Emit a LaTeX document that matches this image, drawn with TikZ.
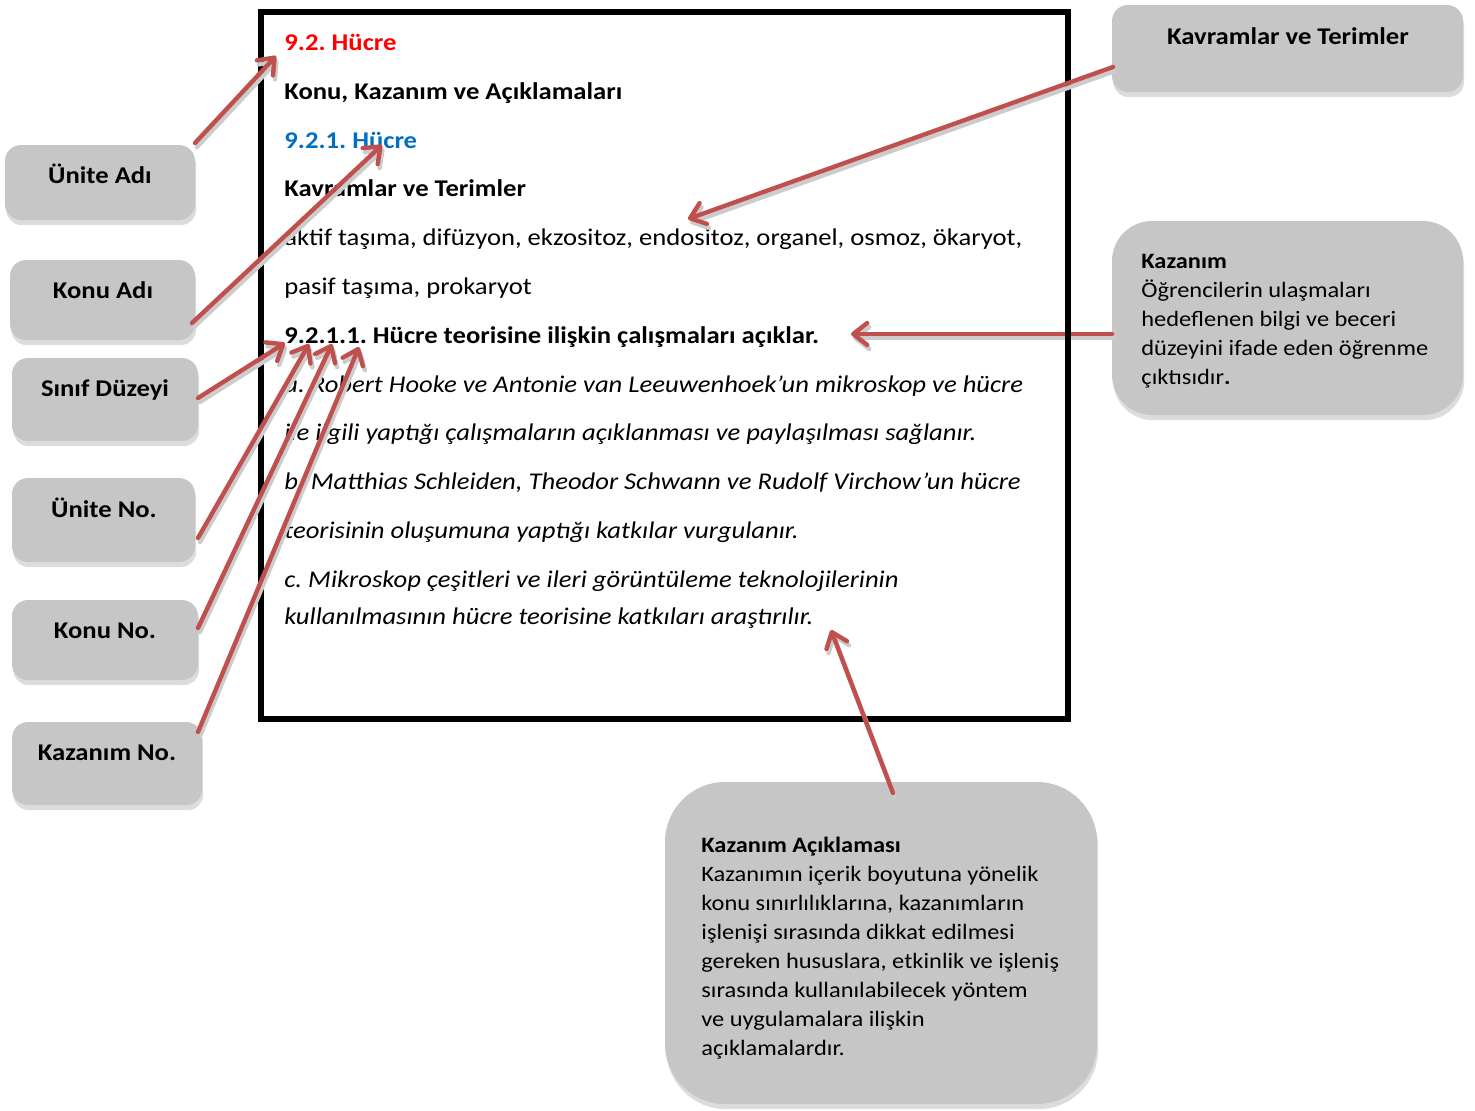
\documentclass[tikz,border=0pt]{standalone}
\usepackage{fontspec}
\setmainfont[FakeStretch=1.11]{Carlito}
\usetikzlibrary{arrows.meta,shadows,fit}
\definecolor{arr}{RGB}{192,80,77}
\definecolor{boxgray}{RGB}{198,198,198}
\definecolor{shgray}{RGB}{220,220,220}
\definecolor{tblue}{RGB}{0,112,192}
\definecolor{tred}{RGB}{255,0,0}
\frenchspacing
\begin{document}
\begin{tikzpicture}[x=0.5pt,y=-0.5pt,
  gbox/.style={fill=boxgray, draw=none, inner sep=0pt, rounded corners=#1,
    drop shadow={shadow xshift=0.6pt, shadow yshift=-2.6pt, fill=shgray, opacity=1}},
  gbox/.default=8pt,
  lbl/.style={inner sep=0pt, anchor=base, font=\bfseries\fontsize{12}{14}\selectfont},
  mtxt/.style={inner sep=0pt, anchor=base west, font=\fontsize{12}{14}\selectfont},
  dtxt/.style={inner sep=0pt, anchor=north west, align=left, font=\fontsize{11}{14.5}\selectfont},
  arw/.style={draw=arr, line width=2.2pt, line cap=round, -{Straight Barb[length=7pt,width=11pt,round]}},
  ash/.style={draw=black!20, line width=2.2pt, line cap=round, -{Straight Barb[length=7pt,width=11pt,round]},
    transform canvas={shift={(1pt,-2pt)}}}]
\useasboundingbox (0,0) rectangle (1475,1110);

% left boxes
\node[gbox, fit={(5,145) (195,220)}] (uniteadi) {};
\node[lbl] (uniteadiT) at (100,183) {Ünite Adı};
\node[gbox, fit={(10,260) (195,340)}] (konuadi) {};
\node[lbl] (konuadiT) at (103,298) {Konu Adı};
\node[gbox, fit={(12,358) (198,441)}] (sinif) {};
\node[lbl] (sinifT) at (105,396) {Sınıf Düzeyi};
\node[gbox, fit={(12,478) (195,562)}] (uniteno) {};
\node[lbl] (unitenoT) at (104,517) {Ünite No.};
\node[gbox, fit={(12,600) (198,680)}] (konuno) {};
\node[lbl] (konunoT) at (105,638) {Konu No.};
\node[gbox, fit={(12,722) (202,805)}] (kazno) {};
\node[lbl] (kaznoT) at (107,760) {Kazanım No.};

% right boxes
\node[gbox, fit={(1112,5) (1463,92)}] (kavbox) {};
\node[lbl] (kavboxT) at (1288,44) {Kavramlar ve Terimler};
\node[gbox=20pt, fit={(1112,221) (1463,415)}] (kazbox) {};
\node[dtxt] (kazboxT) at (1141,254) {\textbf{Kazanım}\\Öğrencilerin ulaşmaları\\hedeflenen bilgi ve beceri\\düzeyini ifade eden öğrenme\\çıktısıdır\textbf{.}};
\node[gbox=30pt, fit={(665,782) (1097,1104)}] (acikbox) {};
\node[dtxt] (acikboxT) at (701,837) {\textbf{Kazanım Açıklaması}\\Kazanımın içerik boyutuna yönelik\\konu sınırlılıklarına, kazanımların\\işlenişi sırasında dikkat edilmesi\\gereken hususlara, etkinlik ve işleniş\\sırasında kullanılabilecek yöntem\\ve uygulamalara ilişkin\\açıklamalardır.};

% coordinates of arrow ends
\coordinate (t1) at (195,143); \coordinate (h1) at (276,56);
\coordinate (t2) at (192,323); \coordinate (h2) at (382,145);
\coordinate (t3) at (198,398); \coordinate (h3) at (285,343);
\coordinate (t4) at (198,538); \coordinate (h4) at (309,344);
\coordinate (t5) at (198,628); \coordinate (h5) at (332,344);
\coordinate (t6) at (198,732); \coordinate (h6) at (359,347);
\coordinate (t7) at (1113,67); \coordinate (h7) at (688,219);
\coordinate (t8) at (1112,334); \coordinate (h8) at (851,334);
\coordinate (t9) at (893,793); \coordinate (h9) at (831,630);

% Kazanim arrow below the frame
\draw[ash] (t8) -- (h8);
\draw[arw] (t8) -- (h8);

% main frame
\node[draw=black, line width=2.6pt, inner sep=0pt, fit={(261,12) (1068,719)}] (frame) {};

% main texts
\node[mtxt, text=tred, font=\bfseries\fontsize{12}{14}\selectfont] (l1) at (284,50) {9.2. Hücre};
\node[mtxt, font=\bfseries\fontsize{12}{14}\selectfont] (l2) at (284,99) {Konu, Kazanım ve Açıklamaları};
\node[mtxt, text=tblue, font=\bfseries\fontsize{12}{14}\selectfont] (l3) at (284,148) {9.2.1. Hücre};
\node[mtxt, font=\bfseries\fontsize{12}{14}\selectfont] (l4) at (284,196) {Kavramlar ve Terimler};
\node[mtxt] (l5) at (284,245) {aktif taşıma, difüzyon, ekzositoz, endositoz, organel, osmoz, ökaryot,};
\node[mtxt] (l6) at (284,294) {pasif taşıma, prokaryot};
\node[mtxt, font=\bfseries\fontsize{12}{14}\selectfont] (l7) at (284,343) {9.2.1.1. Hücre teorisine ilişkin çalışmaları açıklar.};
\node[mtxt, font=\itshape\fontsize{12}{14}\selectfont] (l8) at (284,392) {a. Robert Hooke ve Antonie van Leeuwenhoek’un mikroskop ve hücre};
\node[mtxt, font=\itshape\fontsize{12}{14}\selectfont] (l9) at (284,440) {ile ilgili yaptığı çalışmaların açıklanması ve paylaşılması sağlanır.};
\node[mtxt, font=\itshape\fontsize{12}{14}\selectfont] (l10) at (284,489) {b. Matthias Schleiden, Theodor Schwann ve Rudolf Virchow’un hücre};
\node[mtxt, font=\itshape\fontsize{12}{14}\selectfont] (l11) at (284,538) {teorisinin oluşumuna yaptığı katkılar vurgulanır.};
\node[mtxt, font=\itshape\fontsize{12}{14}\selectfont] (l12) at (284,587) {c. Mikroskop çeşitleri ve ileri görüntüleme teknolojilerinin};
\node[mtxt, font=\itshape\fontsize{12}{14}\selectfont] (l13) at (284,624) {kullanılmasının hücre teorisine katkıları araştırılır.};

% arrows
\foreach \i in {1,2,3,4,5,6,7,9} {\draw[ash] (t\i) -- (h\i);}
\foreach \i in {1,2,3,4,5,6,7,9} {\draw[arw] (t\i) -- (h\i);}
\end{tikzpicture}
\end{document}
